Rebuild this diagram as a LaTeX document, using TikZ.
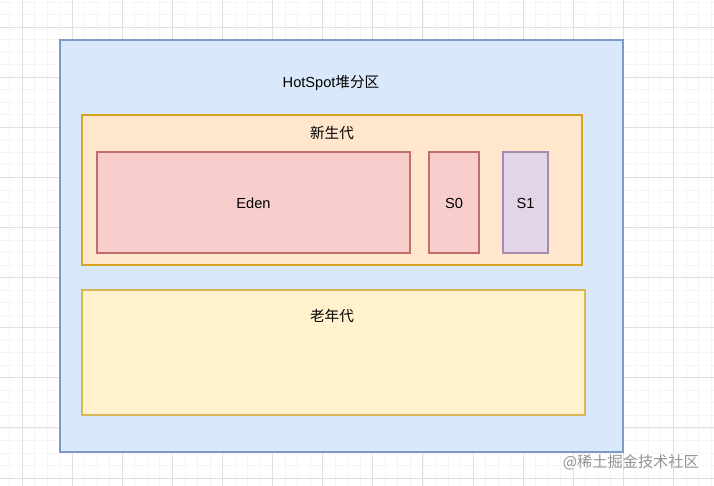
\documentclass[tikz,border=0pt]{standalone}
\usepackage{fontspec}
\setmainfont{Liberation Sans}
\newfontfamily\cjk{Noto Sans CJK SC}
\definecolor{gridminor}{HTML}{F5F5F5}
\definecolor{gridmajor}{HTML}{E0E0E0}
\definecolor{bluefill}{HTML}{DAE8FC}
\definecolor{bluedraw}{HTML}{7C9BC8}
\definecolor{orangefill}{HTML}{FFE6CC}
\definecolor{orangedraw}{HTML}{D9A520}
\definecolor{redfill}{HTML}{F8CECC}
\definecolor{reddraw}{HTML}{C0706C}
\definecolor{purplefill}{HTML}{E1D5E7}
\definecolor{purpledraw}{HTML}{A48BB0}
\definecolor{yellowfill}{HTML}{FFF2CC}
\definecolor{yellowdraw}{HTML}{D6B656}
\begin{document}
\begin{tikzpicture}[x=1pt,y=-1pt,
  region/.style={line width=1.1pt},
  lbl/.style={font=\fontsize{14.6}{17}\selectfont, text=black, inner sep=0pt},
]
\useasboundingbox (0,0) rectangle (714,486);
\fill[white] (0,0) rectangle (714,486);
% grid
\foreach \i in {-1,...,57} {
  \draw[gridminor, line width=0.6pt] ({22+\i*12.525},0) -- ({22+\i*12.525},486);
}
\foreach \i in {-2,...,39} {
  \draw[gridminor, line width=0.6pt] (0,{27+\i*12.525}) -- (714,{27+\i*12.525});
}
\foreach \i in {0,...,14} {
  \draw[gridmajor, line width=0.7pt] ({22+\i*50.1},0) -- ({22+\i*50.1},486);
}
\foreach \i in {0,...,9} {
  \draw[gridmajor, line width=0.7pt] (0,{27+\i*50.1}) -- (714,{27+\i*50.1});
}
% boxes
\draw[region, fill=bluefill, draw=bluedraw] (60,40) rectangle (623,452);
\node[lbl] (heap) at (331,83) {HotSpot{\cjk 堆分区}};
\draw[region, fill=orangefill, draw=orangedraw] (82,115) rectangle (582,265);
\node[lbl] (young) at (332,133) {\cjk 新生代};
\draw[region, fill=redfill, draw=reddraw] (97,152) rectangle (410,253);
\node[lbl] (eden) at (253.5,203) {Eden};
\draw[region, fill=redfill, draw=reddraw] (429,152) rectangle (479,253);
\node[lbl] (s0) at (454,203) {S0};
\draw[region, fill=purplefill, draw=purpledraw] (503,152) rectangle (548,253);
\node[lbl] (s1) at (525.5,203) {S1};
\draw[region, fill=yellowfill, draw=yellowdraw] (82,290) rectangle (585,415);
\node[lbl] (old) at (332,316) {\cjk 老年代};
% watermark
\node[font=\fontsize{15.2}{18}\selectfont\cjk, text=black!42, inner sep=0pt, anchor=east] (wm) at (699,462) {@稀土掘金技术社区};
\end{tikzpicture}
\end{document}
